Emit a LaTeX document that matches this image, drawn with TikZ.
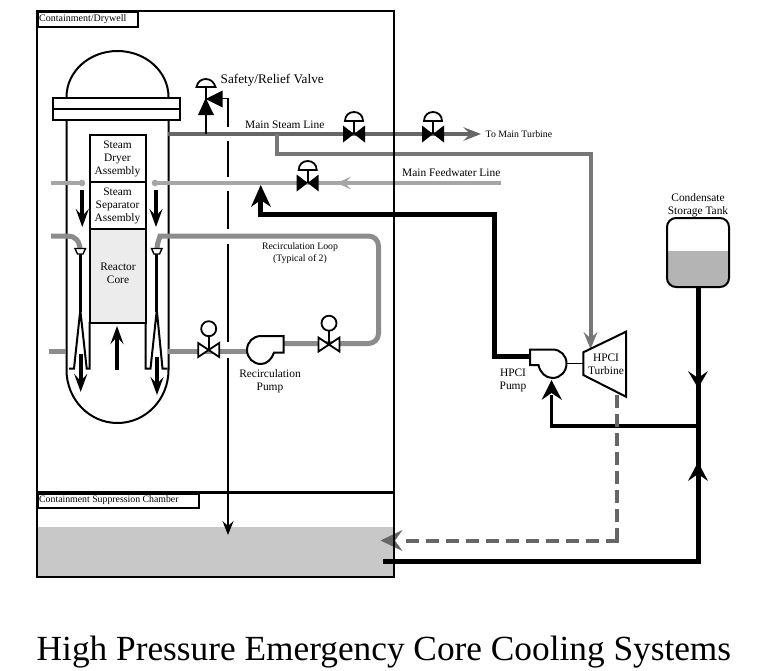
\documentclass[tikz,border=0pt]{standalone}
\usepackage{fontspec}
\setmainfont{Liberation Serif}
\usetikzlibrary{arrows.meta}
\definecolor{steamgray}{HTML}{666666}
\definecolor{branchgray}{HTML}{777777}
\definecolor{feedgray}{HTML}{A6A6A6}
\definecolor{recircgray}{HTML}{8C8C8C}
\definecolor{poolgray}{HTML}{C8C8C8}
\definecolor{tankgray}{HTML}{B4B4B4}
\definecolor{coregray}{HTML}{ECECEC}
\tikzset{
  lbl/.style={inner sep=0pt,font=\fontsize{11.4}{13.2}\selectfont,align=center},
  smalllbl/.style={inner sep=0pt,font=\fontsize{9.8}{12.2}\selectfont,align=center},
  outline/.style={draw=black,line width=2pt},
  steampipe/.style={draw=steamgray,line width=4pt},
  branchpipe/.style={draw=branchgray,line width=4pt},
  feedpipe/.style={draw=feedgray,line width=4pt},
  recircpipe/.style={draw=recircgray,line width=5pt},
  hpline/.style={draw=black,line width=5pt},
  flowarrow/.style={draw=black,line width=4pt,-{Stealth[length=18pt,width=13pt,inset=7pt]}},
  sigline/.style={draw=black,line width=1.8pt},
  pics/airvalve/.style={code={
    \fill[black] (-11,-8.5) -- (11,8.5) -- (11,-8.5) -- (-11,8.5) -- cycle;
    \draw[line width=1.8pt] (0,0) -- (0,-13);
    \draw[line width=1.8pt,fill=white] (-9,-13) .. controls (-9,-18.5) and (-5,-22) .. (0,-22) .. controls (5,-22) and (9,-18.5) .. (9,-13) -- cycle;
  }},
  pics/ballvalve/.style={code={
    \draw[line width=1.8pt,fill=white] (-10.5,-7) -- (10.5,7) -- (10.5,-7) -- (-10.5,7) -- cycle;
    \draw[line width=1.8pt] (0,0) -- (0,-14);
    \draw[line width=1.8pt,fill=white] (0,-21.3) circle (7.5);
  }}
}
\begin{document}
\begin{tikzpicture}[x=1pt,y=-1pt]
\useasboundingbox (0,0) rectangle (757,670);
% named points
\coordinate (steamStart) at (168,134);
\coordinate (steamEnd) at (472,134);
\coordinate (steamTee) at (277,134);
\coordinate (fwEnd) at (501,183);
\coordinate (fwInner) at (155,183);
\coordinate (fwOuter) at (82,183);
\coordinate (fwStub) at (51,183);
\coordinate (turbIn) at (590.5,340);
\coordinate (recTopL) at (51,236);
\coordinate (recLowL) at (49,351);
\coordinate (vesselR) at (168,351);
\coordinate (hpTee) at (698,426);
\coordinate (hpTeeB) at (698,561.5);
\coordinate (poolEnd) at (383,561.5);
\coordinate (srvLineTop) at (228,98.5);
\coordinate (poolTip) at (228,535);
% pool and containment fill
\fill[poolgray] (37,527) rectangle (394,577);
% reactor vessel
\draw[outline] (66.5,97) .. controls (66.5,71.6) and (89.3,51) .. (117.5,51) .. controls (145.7,51) and (168.5,71.6) .. (168.5,97);
\draw[outline] (66.5,120) -- (66.5,370) .. controls (66.5,399.3) and (89.3,423) .. (117.5,423) .. controls (145.7,423) and (168.5,399.3) .. (168.5,370) -- (168.5,120);
\draw[outline,fill=white] (53,98) rectangle (180,120);
\draw[outline] (53,108.5) -- (181,108.5);
% internals
\node[outline,draw,minimum width=56pt,minimum height=47pt,inner sep=0pt,anchor=north west] (dryer) at (89,134) {};
\node[lbl] (dryertext) at (117.5,159) {Steam\\Dryer\\Assembly};
\node[outline,draw,minimum width=56pt,minimum height=47pt,inner sep=0pt,anchor=north west] (separator) at (89,181) {};
\node[lbl] (separatortext) at (117.5,206) {Steam\\Separator\\Assembly};
\node[outline,draw,fill=coregray,minimum width=56pt,minimum height=93.5pt,inner sep=0pt,anchor=north west] (core) at (89,228) {};
\node[lbl] (coretext) at (118,273.5) {Reactor\\Core};
\draw[outline] (89.5,322) -- (89.5,368.5) -- (86.7,368.5) -- (80.3,310) -- (74,368.5) -- (69,368.5);
\draw[outline] (145.5,322) -- (145.5,368.5) -- (150.5,368.5) -- (156.8,310) -- (162.5,368.5) -- (167.5,368.5);
\draw[line width=3.3pt] (80.3,252) -- (80.3,312);
\draw[line width=3.3pt] (156.8,252) -- (156.8,312);
% recirc piping
\draw[recircpipe] (recTopL) -- (68,236) .. controls (75,236) and (80,241) .. (80,250);
\draw[recircpipe,rounded corners=10pt] (157,250) .. controls (157,241) and (161,236) .. (170,236) -- (378.5,236) -- (378.5,343.5) -- (284,343.5);
\draw[recircpipe] (recLowL) -- (66,351);
\draw[recircpipe] (vesselR) -- (248,351);
\draw[line width=1.4pt,fill=white] (75,248.5) -- (85.5,248.5) -- (83,254) -- (77.5,254) -- cycle;
\draw[line width=1.4pt,fill=white] (151.5,248.5) -- (162,248.5) -- (159.5,254) -- (154,254) -- cycle;
% recirculation pump
\draw[outline,fill=white] (283.5,336) -- (261,336) .. controls (253,336) and (247,342.3) .. (247,350) .. controls (247,357.7) and (253,364) .. (261,364) .. controls (267,364) and (272,359) .. (274,352.5) -- (283.5,352.5) -- cycle;
\pic at (208.7,350) {ballvalve};
\pic at (329,344.5) {ballvalve};
% flow arrows
\draw[flowarrow] (82.3,190) -- (82.3,227);
\draw[flowarrow] (156,190) -- (156,227);
\draw[flowarrow] (80.7,354) -- (80.7,392);
\draw[flowarrow] (157,357) -- (157,395);
\draw[flowarrow] (117,370) -- (117,326);
% steam
\draw[steampipe] (steamStart) -- (steamEnd);
\fill[steamgray] (481,134) -- (463,127) -- (470,134) -- (463,141) -- cycle;
\draw[branchpipe] (steamTee) |- (590.5,154) -- (turbIn);
\fill[branchgray] (590.5,349) -- (583.5,332) -- (590.5,338) -- (597.5,332) -- cycle;
\pic at (354,134) {airvalve};
\pic at (433,134) {airvalve};
% feedwater
\draw[feedpipe] (fwEnd) -- (fwInner);
\draw[feedpipe] (fwStub) -- (fwOuter);
\fill[feedgray] (fwInner) circle (3.3) (fwOuter) circle (3.3);
\fill[feedgray] (337,183) -- (351,176.5) -- (345,183) -- (351,189.5) -- cycle;
\pic at (307.7,183) {airvalve};
% safety relief valve
\draw[line width=1.8pt] (205.7,134) -- (205.7,87);
\fill (205.7,98) -- (214,115) -- (198,115) -- cycle;
\fill (205.7,99) -- (222.7,90.5) -- (222.7,107.5) -- cycle;
\draw[line width=1.8pt,fill=white] (196.5,87) .. controls (197.5,82) and (201,79) .. (205.7,79) .. controls (210.5,79) and (214,82) .. (215.5,87) -- cycle;
\draw[line width=1.8pt] (196.5,87) -- (215.5,87);
\draw[sigline] (222,98.5) -- (srvLineTop) -- (228,127);
\draw[sigline] (228,141) -- (228,177);
\draw[sigline] (228,191) -- (228,229);
\draw[sigline] (228,244) -- (228,342);
\draw[sigline,-{Stealth[length=14pt,width=11pt,inset=5pt]}] (228,358) -- (poolTip);
% HPCI steam/water
\draw[hpline] (529,356) -| (494,214) -| (260.7,198);
\fill (260.7,185) -- (271,207) -- (260.7,200) -- (251,207) -- cycle;
\draw[line width=5pt] (698,287) -- (hpTeeB) -- (poolEnd);
\fill (698,388) -- (688,371) -- (698,378) -- (708,371) -- cycle;
\fill (698,462) -- (688,481) -- (698,474) -- (708,481) -- cycle;
\draw[line width=3.8pt] (hpTee) -| (551.5,395);
\fill (551.5,380) -- (562,400) -- (551.5,393) -- (541.5,400) -- cycle;
% exhaust
\draw[draw=steamgray,line width=4pt,dash pattern=on 13pt off 6pt] (616.7,395) -- (616.7,540.5);
\draw[draw=steamgray,line width=4pt,dash pattern=on 13pt off 7pt] (618.7,540.5) -- (400,540.5);
\fill[steamgray] (380.5,540.5) -- (402.5,530) -- (395,540.5) -- (402.5,551) -- cycle;
% HPCI pump and turbine
\draw[line width=1.8pt] (567,363.5) -- (583,363.5);
\draw[outline,fill=white] (530,349.5) -- (552.5,349.5) .. controls (560.5,349.5) and (566.5,355.5) .. (566.5,363.5) .. controls (566.5,371.5) and (560.5,378) .. (552.5,378) .. controls (545.5,378) and (540,372.5) .. (538.5,365) -- (530,365) -- cycle;
\draw[outline,fill=white] (583.3,352.3) -- (626,331.7) -- (626,396.7) -- (583.3,375) -- cycle;
% tank
\begin{scope}
\clip[rounded corners=9pt] (667,218) rectangle (729,287);
\fill[tankgray] (667,251) rectangle (729,287);
\end{scope}
\draw[outline,rounded corners=9pt] (667,218) rectangle (729,287);
% containment
\draw[line width=2.2pt] (37,11) rectangle (394,577);
\draw[line width=2.2pt] (37,492.5) -- (394,492.5);
\node[outline,draw,anchor=north west,minimum width=100pt,minimum height=14.5pt,inner sep=0pt] (drywellbox) at (37,11) {};
\node[lbl,anchor=west,font=\fontsize{10}{12}\selectfont] (drywell) at (39,19) {Containment/Drywell};
\node[outline,draw,anchor=north west,minimum width=161pt,minimum height=14.5pt,inner sep=0pt] (chamberbox) at (37,492.5) {};
\node[lbl,anchor=west,font=\fontsize{9.8}{12}\selectfont] (chamber) at (39,500) {Containment Suppression Chamber};
% labels
\node[lbl,anchor=west,font=\fontsize{13.2}{15}\selectfont] (srv) at (220.5,80.5) {Safety/Relief Valve};
\node[lbl,anchor=west] (msl) at (245,124.5) {Main Steam Line};
\node[smalllbl,anchor=west] (tmt) at (485.5,134) {To Main Turbine};
\node[lbl,anchor=west] (mfl) at (402,172.5) {Main Feedwater Line};
\node[lbl] (cst) at (698,205) {Condensate\\Storage Tank};
\node[smalllbl] (loop) at (300,253.5) {Recirculation Loop\\(Typical of 2)};
\node[lbl] (rp) at (270,381.5) {Recirculation\\Pump};
\node[lbl] (hp) at (513,380.5) {HPCI\\Pump};
\node[lbl] (ht) at (606,364.5) {HPCI\\Turbine};
\node[inner sep=0pt,anchor=west,font=\fontsize{35.3}{38}\selectfont] (title) at (36.5,652.5) {High Pressure Emergency Core Cooling Systems};
\end{tikzpicture}
\end{document}
